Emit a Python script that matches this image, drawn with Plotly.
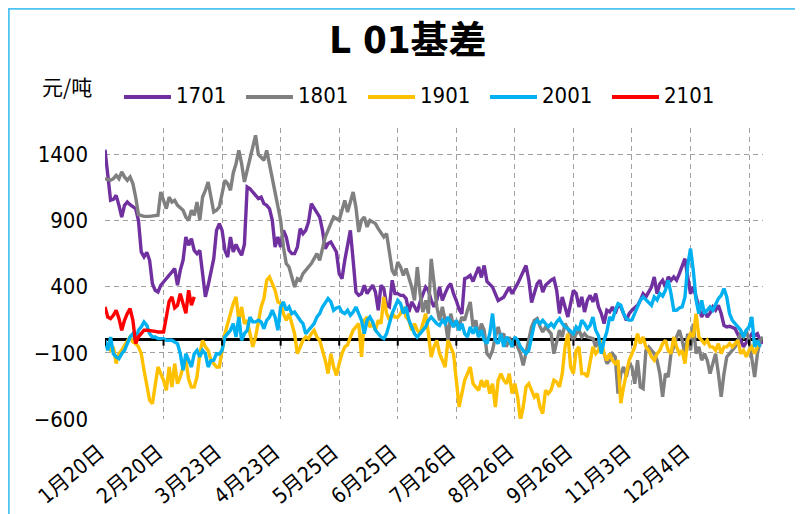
import plotly.graph_objects as go

# ---------------- data ----------------
title_text = "L 01基差"
unit_text = "元/吨"

# trading-day index of each x tick (category axis, one tick every 21 trading days)
tick_days = [0, 21, 42, 63, 84, 105, 126, 147, 168, 189, 210, 231]
tick_labels = ["1月20日", "2月20日", "3月23日", "4月23日", "5月25日", "6月25日",
               "7月26日", "8月26日", "9月26日", "11月3日", "12月4日", ""]
y_ticks = [-600, -100, 400, 900, 1400]

series_names = ["1701", "1801", "1901", "2001", "2101"]
series_colors = ["#7030A0", "#808080", "#FFC000", "#00B0F0", "#FF0000"]

# (trading-day index, basis in 元/吨)
basis_1701 = [(0,1436),(2,1053),(3,1060),(4,1091),(5,1015),(6,927),(7,1015),(8,1040),(9,1020),(10,1003),(11,990),(12,900),(13,663),(14,625),(15,660),(16,600),(17,423),(18,373),(19,360),(20,411),(21,436),(22,461),(23,486),(24,511),(25,537),(26,411),(27,524),(28,600),(29,776),(30,713),(31,763),(32,675),(33,650),(34,675),(35,520),(36,323),(37,411),(38,524),(39,612),(40,826),(41,877),(42,826),(43,675),(44,625),(45,776),(46,663),(47,720),(48,675),(49,638),(50,720),(51,1154),(52,1141),(53,1116),(54,1091),(55,1066),(56,1078),(57,1028),(58,1015),(59,990),(60,902),(61,700),(62,776),(63,700),(64,826),(65,776),(66,675),(67,650),(68,650),(69,700),(70,839),(71,801),(72,826),(73,890),(74,1028),(75,990),(76,952),(77,927),(78,826),(79,688),(80,726),(81,738),(82,700),(83,663),(84,499),(85,461),(86,600),(87,700),(88,826),(89,600),(90,360),(91,335),(92,348),(93,411),(94,348),(95,380),(96,411),(97,360),(98,222),(99,411),(100,386),(101,260),(102,247),(103,449),(104,348),(105,348),(106,335),(107,335),(108,310),(109,209),(110,285),(111,250),(112,209),(113,285),(114,348),(115,398),(116,373),(117,297),(118,247),(119,297),(120,397),(121,296),(122,350),(123,397),(124,423),(125,347),(126,296),(127,230),(128,195),(129,461),(130,470),(131,486),(132,440),(134,549),(135,470),(136,561),(137,440),(139,397),(141,296),(143,321),(145,397),(146,347),(148,423),(149,474),(151,560),(152,450),(153,280),(155,423),(156,449),(157,360),(158,411),(160,449),(161,461),(162,373),(163,197),(164,323),(165,247),(166,171),(167,272),(168,373),(169,348),(170,247),(171,323),(172,209),(173,297),(174,335),(175,285),(176,348),(177,247),(178,197),(179,121),(180,222),(181,209),(182,247),(183,197),(184,260),(185,247),(186,197),(187,146),(188,197),(189,222),(191,260),(192,297),(193,348),(194,323),(196,398),(197,474),(198,348),(199,423),(200,449),(201,398),(202,474),(203,449),(204,474),(205,449),(206,499),(207,549),(208,612),(209,474),(210,348),(211,398),(212,323),(213,260),(214,171),(215,222),(216,171),(217,200),(218,247),(219,222),(220,260),(221,197),(222,108),(223,96),(224,101),(226,83),(227,45),(228,-5),(229,-55),(231,20),(232,45),(233,33),(234,45),(235,-5),(236,-30)]

basis_1801 = [(0,1217),(2,1205),(3,1217),(4,1242),(5,1217),(6,1268),(7,1230),(8,1205),(9,1230),(10,1180),(11,1078),(12,945),(14,932),(16,932),(19,940),(20,1116),(21,1053),(22,990),(23,1078),(24,1040),(25,1053),(26,1015),(28,978),(29,927),(30,902),(31,978),(32,940),(33,1040),(34,902),(35,1078),(36,1129),(37,1192),(38,1078),(39,965),(40,978),(41,1003),(42,1104),(43,1205),(44,1180),(45,1129),(46,1260),(47,1330),(48,1431),(49,1330),(50,1192),(51,1280),(52,1381),(53,1444),(54,1545),(55,1400),(56,1381),(57,1356),(58,1431),(59,1330),(60,1230),(61,1104),(62,1003),(63,902),(64,700),(65,575),(66,549),(67,480),(68,398),(69,461),(70,449),(71,499),(72,524),(73,549),(74,575),(75,612),(76,650),(77,600),(78,690),(79,776),(80,826),(81,880),(82,927),(84,902),(85,990),(86,1053),(87,965),(89,1116),(90,1000),(91,814),(92,902),(93,927),(94,852),(95,902),(96,890),(97,877),(98,839),(99,801),(100,776),(101,801),(102,675),(103,524),(104,486),(105,587),(106,549),(107,486),(108,537),(109,474),(110,398),(111,297),(112,549),(113,348),(114,209),(115,297),(116,197),(117,610),(118,440),(119,250),(120,146),(121,247),(122,146),(123,-5),(124,197),(125,96),(126,146),(127,96),(128,171),(129,146),(130,222),(131,285),(132,96),(133,146),(134,20),(135,121),(136,71),(137,-106),(138,-131),(139,-81),(140,20),(141,96),(142,20),(143,45),(144,-55),(145,20),(146,-55),(147,-5),(148,-55),(149,-106),(150,-194),(151,-106),(152,-5),(153,96),(154,146),(155,159),(156,100),(157,58),(158,96),(159,70),(160,45),(161,-106),(162,-5),(163,71),(164,20),(165,121),(166,83),(167,45),(168,-5),(169,45),(170,71),(171,20),(172,45),(173,20),(175,8),(176,-55),(177,-5),(178,-55),(179,-106),(180,-181),(181,-156),(182,-106),(183,-131),(184,-408),(185,-257),(186,-207),(187,-282),(188,-181),(189,-207),(190,-333),(191,-156),(192,-358),(193,-370),(194,-81),(195,-55),(196,-81),(197,-106),(198,-156),(199,-257),(200,-433),(201,-257),(202,-282),(203,-106),(204,-55),(205,20),(206,71),(207,-5),(208,-106),(209,45),(210,-81),(211,121),(212,-106),(213,-55),(214,-156),(215,-106),(216,-156),(217,-257),(218,-181),(219,-106),(220,-257),(221,-433),(222,-257),(223,-131),(224,-106),(225,-81),(226,-55),(227,-5),(228,45),(229,20),(230,71),(231,-5),(232,-131),(233,-282),(234,-106),(235,-5),(236,20)]

basis_1901 = [(0,-18),(1,-55),(2,-81),(3,-55),(4,-181),(5,-106),(6,-81),(7,-43),(8,-5),(9,20),(10,-18),(11,-30),(12,-55),(13,-106),(14,-232),(15,-358),(16,-459),(17,-484),(18,-358),(19,-207),(20,-257),(21,-307),(22,-383),(23,-207),(24,-358),(25,-181),(26,-333),(27,-282),(28,-207),(29,-156),(30,-300),(31,-358),(32,-358),(33,-282),(34,-106),(35,-5),(36,-55),(37,-81),(38,-156),(39,-181),(40,-207),(41,-207),(42,-81),(43,45),(44,121),(45,197),(46,272),(47,323),(48,146),(49,247),(50,120),(51,146),(52,45),(53,-55),(54,20),(55,146),(56,247),(57,310),(58,449),(59,474),(60,423),(61,373),(62,285),(63,272),(64,197),(65,146),(66,197),(67,121),(68,45),(69,-106),(70,-55),(71,-5),(72,20),(73,8),(74,45),(75,71),(76,20),(77,-5),(78,-81),(79,-156),(80,-257),(81,-106),(82,-207),(83,-270),(84,-181),(85,-106),(86,-55),(87,-40),(88,20),(89,71),(90,96),(91,121),(92,-131),(93,146),(94,171),(95,96),(96,121),(97,71),(98,146),(99,121),(100,323),(101,197),(102,150),(103,197),(104,171),(105,170),(106,197),(107,247),(108,171),(109,146),(110,71),(111,121),(112,71),(113,45),(114,120),(115,197),(116,45),(117,-131),(118,-55),(119,-5),(120,-106),(121,-156),(122,-207),(123,-5),(124,-55),(125,-106),(126,-307),(127,-509),(128,-408),(129,-307),(130,-257),(131,-207),(132,-333),(133,-358),(134,-383),(135,-307),(136,-358),(137,-307),(138,-408),(139,-333),(140,-509),(141,-307),(142,-257),(143,-307),(144,-333),(145,-257),(146,-408),(147,-333),(148,-433),(149,-610),(150,-509),(151,-358),(152,-333),(153,-383),(154,-433),(155,-408),(156,-509),(157,-559),(158,-383),(159,-408),(160,-380),(161,-307),(162,-320),(163,-358),(164,-257),(165,-55),(166,45),(167,-207),(168,-257),(169,-81),(170,-55),(171,-257),(172,-257),(173,-282),(174,-156),(175,-55),(176,-106),(177,-81),(178,-5),(179,-106),(180,-156),(181,-106),(182,-156),(183,-181),(184,-156),(185,-480),(186,-358),(187,-257),(188,-156),(189,-106),(190,-55),(191,45),(192,-30),(193,20),(194,-55),(195,-81),(196,-131),(197,-156),(198,-106),(199,-81),(200,-30),(201,-5),(202,-81),(203,-106),(204,20),(205,-55),(206,-106),(207,-81),(208,-181),(209,-5),(210,45),(211,20),(212,197),(213,20),(214,-5),(215,-30),(216,-5),(217,-55),(218,-55),(219,-81),(220,-30),(221,-106),(222,-55),(223,-55),(224,-30),(225,-55),(226,-30),(227,-5),(228,-106),(229,-81),(230,-131),(231,-81),(232,-55),(233,-106),(234,-55),(235,-30)]

basis_2001 = [(0,-5),(1,-81),(2,20),(3,-106),(4,-131),(5,-144),(6,-106),(7,-81),(8,-30),(9,20),(10,45),(11,-5),(12,71),(13,96),(14,134),(15,108),(16,45),(17,20),(18,20),(19,8),(20,8),(21,8),(22,-5),(23,-5),(24,-5),(25,-18),(26,-30),(27,-106),(28,-232),(29,-106),(30,-156),(31,-207),(32,-106),(33,-81),(34,-131),(35,-81),(36,-106),(37,-207),(38,-160),(39,-156),(40,-106),(41,-110),(42,-81),(43,20),(44,45),(45,71),(46,121),(47,20),(48,171),(49,-5),(50,45),(51,71),(52,171),(53,134),(54,134),(55,146),(56,134),(57,83),(58,146),(59,171),(60,222),(61,171),(62,71),(63,247),(64,285),(65,222),(66,247),(67,197),(68,209),(69,171),(70,146),(71,121),(72,45),(73,71),(74,96),(75,121),(76,171),(77,197),(78,247),(79,285),(80,310),(81,285),(82,222),(83,240),(84,247),(85,209),(86,197),(87,222),(88,184),(89,209),(90,247),(91,197),(92,146),(93,45),(94,146),(95,171),(96,134),(97,71),(98,45),(99,20),(100,8),(101,45),(102,121),(103,197),(104,247),(105,297),(106,272),(107,197),(108,247),(109,146),(110,96),(111,45),(112,20),(113,45),(114,71),(115,96),(116,146),(117,171),(118,146),(119,121),(120,108),(121,146),(122,121),(123,171),(124,134),(125,96),(126,146),(127,71),(128,121),(129,45),(130,20),(131,96),(132,45),(133,96),(134,20),(135,71),(136,-5),(137,-30),(138,45),(139,197),(140,-5),(141,-30),(142,45),(143,-55),(144,20),(145,-5),(146,-55),(147,20),(148,-5),(149,-55),(150,-81),(151,-106),(152,-81),(153,20),(154,121),(155,146),(156,121),(157,146),(158,121),(159,96),(160,121),(161,96),(162,134),(163,159),(164,121),(165,96),(166,83),(167,60),(168,45),(169,96),(170,71),(171,146),(172,121),(173,83),(174,108),(175,171),(176,71),(177,30),(178,-106),(179,-5),(180,60),(181,171),(182,146),(183,222),(184,272),(185,260),(186,197),(187,159),(188,146),(189,150),(190,200),(191,247),(192,297),(193,323),(194,300),(195,280),(196,260),(197,323),(198,300),(199,348),(200,330),(201,373),(202,449),(203,348),(204,222),(205,222),(206,240),(207,247),(208,320),(209,560),(210,688),(211,524),(212,300),(213,197),(214,297),(215,197),(216,222),(217,247),(218,222),(219,272),(220,310),(221,335),(222,386),(223,323),(224,197),(225,146),(226,121),(227,96),(228,71),(229,20),(230,71),(231,96),(232,171),(233,-55),(234,-5),(235,-55)]

basis_2101 = [(0,247),(1,171),(2,159),(3,184),(4,222),(5,160),(6,71),(7,146),(8,197),(9,234),(10,146),(11,-30),(12,20),(13,45),(14,71),(15,71),(16,70),(17,65),(18,62),(19,58),(20,58),(21,58),(22,171),(23,290),(24,323),(25,240),(26,260),(27,348),(28,272),(29,200),(30,373),(31,260),(32,323)]

all_series = [basis_1701, basis_1801, basis_1901, basis_2001, basis_2101]

# ---------------- style ----------------
PAGE_OFF = 8                     # default body margin of the html page
W, H = 795, 506
ML, MR, MT, MB = 97, 40, 120, 95
PW, PH = W - ML - MR, H - MT - MB
NARROW = "Liberation Sans Narrow, Arial Narrow, DejaVu Sans Condensed, Noto Sans CJK SC, sans-serif"
CJK = "Noto Sans CJK SC, sans-serif"
GRID = "#A0A0A0"
GRID_DASH = "5px,4px"
X_RANGE = [0, 236]
Y_RANGE = [-600, 1600]


def px_x(page_px):
    return (page_px - PAGE_OFF - ML) / PW


def px_y(page_py):
    return (H - MB - (page_py - PAGE_OFF)) / PH


fig = go.Figure()
for name, data, color in zip(series_names, all_series, series_colors):
    days = [d for d, _ in data]
    vals = [v for _, v in data]
    fig.add_trace(go.Scatter(x=days, y=vals, mode="lines", name=name,
                             line=dict(color=color, width=3.4), showlegend=False,
                             hoverinfo="x+y+name"))

shapes = []
# tick marks on the zero line
for d in tick_days:
    shapes.append(dict(type="line", xref="x", yref="y", x0=d, x1=d,
                       ysizemode="pixel", yanchor=0, y0=0, y1=-6,
                       line=dict(color="black", width=2)))
# custom legend samples
annotations = []
for i, (name, color) in enumerate(zip(series_names, series_colors)):
    x0 = 124 + i * 122
    shapes.append(dict(type="line", xref="paper", yref="paper",
                       x0=px_x(x0), x1=px_x(x0 + 47), y0=px_y(97), y1=px_y(97),
                       line=dict(color=color, width=4)))
    annotations.append(dict(text=name, xref="paper", yref="paper", x=px_x(x0 + 50),
                            y=px_y(96), xanchor="left", yanchor="middle", showarrow=False,
                            font=dict(family=NARROW, size=22, color="black")))
# outer frame
shapes.append(dict(type="rect", xref="paper", yref="paper", x0=px_x(8.5), x1=px_x(W + 40),
                   y0=px_y(H + 40), y1=px_y(8.5), line=dict(color="#4DC3F2", width=2.5),
                   layer="below"))

annotations.append(dict(text=unit_text, xref="paper", yref="paper", x=px_x(67), y=px_y(86),
                        xanchor="center", yanchor="middle", showarrow=False,
                        font=dict(family=CJK, size=21, color="black")))

fig.update_layout(
    width=W, height=H,
    margin=dict(l=ML, r=MR, t=MT, b=MB, autoexpand=False),
    paper_bgcolor="white", plot_bgcolor="white",
    title=dict(text=title_text, x=(408 - PAGE_OFF) / W, xref="container", xanchor="center",
               y=1 - (40 - PAGE_OFF) / H, yref="container", yanchor="middle",
               font=dict(family=NARROW, size=38, color="black", weight="bold")),
    shapes=shapes, annotations=annotations,
    xaxis=dict(range=X_RANGE, tickmode="array", tickvals=tick_days, ticktext=tick_labels,
               tickangle=-40, showgrid=True, gridcolor=GRID, griddash=GRID_DASH, gridwidth=1.3,
               zeroline=False, showline=False, ticks="", ticklabelstandoff=16,
               ticklabelshift=-6,
               tickfont=dict(family=NARROW, size=21, color="black")),
    yaxis=dict(range=Y_RANGE, tickmode="array", tickvals=y_ticks,
               showgrid=True, gridcolor=GRID, griddash=GRID_DASH, gridwidth=1.3,
               zeroline=True, zerolinecolor="black", zerolinewidth=2.5,
               showline=False, ticks="", ticklabelstandoff=16,
               tickfont=dict(family=NARROW, size=22, color="black")),
    showlegend=False,
)

fig.write_html("out.html")
